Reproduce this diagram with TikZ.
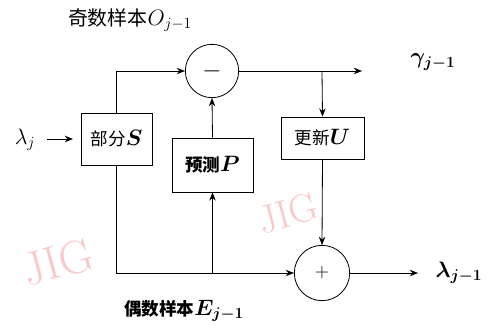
\documentclass[tikz,border=0pt]{standalone}
\usepackage{fix-cm}
\usepackage{amsmath}
\usepackage{bm}
\usepackage{fontspec}
\newfontfamily\cjk{Noto Sans CJK SC}
\usetikzlibrary{arrows.meta}
\definecolor{wm}{RGB}{250,200,200}
\newcommand\mbig{\fontsize{19}{21}\selectfont}
\begin{document}
\begin{tikzpicture}[x=0.03cm,y=-0.03cm,
  line width=0.7pt,
  arr/.style={-{Stealth[length=7pt,width=5.5pt]}},
  blk/.style={draw,rectangle,inner sep=0pt,font=\fontsize{15}{17}\selectfont},
  op/.style={draw,circle,inner sep=0pt},
  lbl/.style={inner sep=0pt,font=\fontsize{15}{17}\selectfont},
  wmark/.style={inner sep=0pt,text=wm,font=\fontsize{40}{40}\selectfont\rmfamily,rotate=15}]
\useasboundingbox (0,0) rectangle (490,328);
% watermarks
\node[wmark] (w1) at (58,262) {JIG};
\node[wmark,font=\fontsize{34}{34}\selectfont\rmfamily] (w2) at (288,213) {JIG};
% blocks
\node[blk,minimum width=2.13cm,minimum height=1.56cm] (S) at (116.5,139) {{\cjk 部分}{\mbig$\bm{S}$}};
\node[blk,minimum width=2.43cm,minimum height=1.62cm] (P) at (212.5,165) {{\cjk\bfseries 预测}{\mbig$\bm{P}$}};
\node[blk,minimum width=2.49cm,minimum height=1.26cm] (U) at (322.5,138) {{\cjk 更新}{\mbig$\bm{U}$}};
\node[op,minimum size=1.6cm] (minus) at (212,71) {\fontsize{21}{21}\selectfont$-$};
\node[op,minimum size=1.66cm] (plus) at (322,273) {\fontsize{17}{17}\selectfont$+$};
% labels
\node[lbl,font=\fontsize{17}{19}\selectfont] (title) at (130,20) {{\cjk 奇数样本}{\mbig$O_{j-1}$}};
\node[lbl] (even) at (184,311) {{\cjk\bfseries 偶数样本}{\mbig$\bm{E_{j-1}}$}};
\node[lbl] (lamj) at (25,140) {\mbig$\lambda_j$};
\node[lbl] (gam) at (433,62) {\mbig$\bm{\gamma_{j-1}}$};
\node[lbl] (lamo) at (459,273) {\mbig$\bm{\lambda_{j-1}}$};
% coordinates
\coordinate (a1) at (47,139);
\coordinate (a2) at (73,139);
\coordinate (gout) at (362,71);
\coordinate (br1) at (322,71);
\coordinate (br2) at (212.5,273);
\coordinate (lout) at (418,273);
% connectors
\draw[arr] (a1) -- (a2);
\draw[arr] (S.north) |- (minus.west);
\draw[arr] (minus.east) -- (gout);
\draw[arr] (br1) -- (U.north);
\draw[arr] (P.north) -- (minus.south);
\draw[arr] (S.south) |- (plus.west);
\draw[arr] (br2) -- (P.south);
\draw[arr] (U.south) -- (plus.north);
\draw[arr] (plus.east) -- (lout);
\end{tikzpicture}
\end{document}
